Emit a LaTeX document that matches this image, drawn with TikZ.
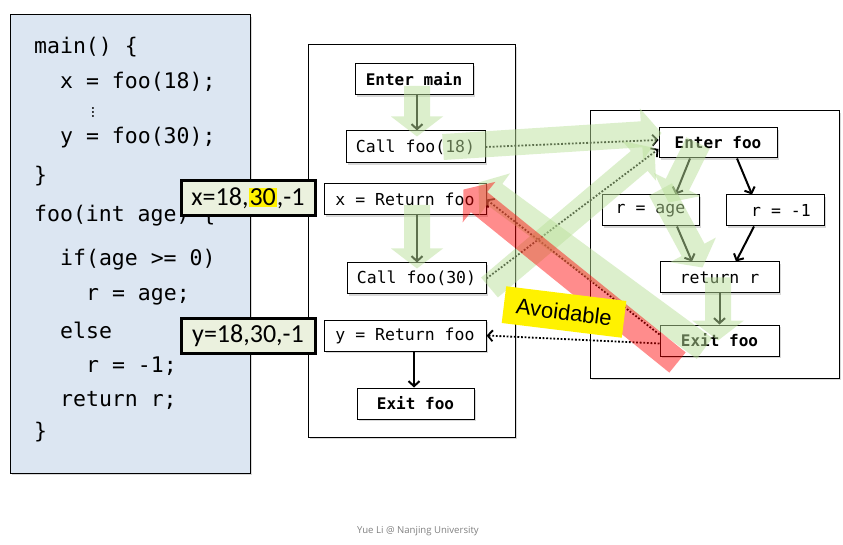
\documentclass[tikz,border=0pt]{standalone}
\usepackage{fontspec}
\usetikzlibrary{arrows.meta,calc,shadows,positioning}
\newfontfamily\codefont{DejaVu Sans Mono}
\newfontfamily\labelfont{Carlito}
\newfontfamily\notefont{Liberation Sans}
\newfontfamily\footfont{Open Sans}
\definecolor{codebg}{HTML}{DCE6F2}
\definecolor{labelbg}{HTML}{EBF1DE}
\definecolor{flowgreen}{HTML}{BBE19B}
\newcommand\fatarrow[3][]{%
  \fill[#1] let \p1=(#2), \p2=(#3), \n1={atan2(\y2-\y1,\x2-\x1)}, \n2={veclen(\x2-\x1,\y2-\y1)} in
    [shift={(\p1)},rotate=\n1] (0,-13) -- (\n2-20,-13) -- (\n2-20,-26) -- (\n2,0)
    -- (\n2-20,26) -- (\n2-20,13) -- (0,13) -- cycle;}

\begin{document}
\begin{tikzpicture}[x=1pt,y=-1pt,
  frame/.style={draw,line width=1pt,fill=white,drop shadow={shadow xshift=2pt,shadow yshift=-2pt,opacity=0.3}},
  box/.style={frame,inner sep=0pt,minimum height=31pt,font=\codefont\fontsize{16.5}{18}\selectfont},
  bbox/.style={box,font=\codefont\bfseries\fontsize{16}{18}\selectfont},
  flow/.style={-{Straight Barb[length=5pt,width=11pt]},line width=2pt},
  back/.style={flow,line width=1.8pt,dash pattern=on 1.8pt off 1.8pt},
  val/.style={draw,line width=3pt,fill=labelbg,minimum width=134pt,minimum height=35pt,inner sep=0pt,font=\labelfont\fontsize{26}{28}\selectfont},
  okpath/.style={fill=flowgreen,fill opacity=0.5},
  badpath/.style={fill=red,fill opacity=0.45}]
  \useasboundingbox (0,0) rectangle (843,545);

  \node[frame,fill=codebg,minimum width=240pt,minimum height=458pt] (code) at (130,244) {};
  \foreach \y/\x/\t in {47/34/{main() \{}, 82/60/{x = foo(18);}, 138/60/{y = foo(30);}, 176/34/{\}},
      216/34/{foo(int age) \{}, 260/60/{if(age >= 0)}, 297/86/{r = age;}, 330/60/{else},
      366/86/{r = -1;}, 400/60/{return r;}, 432/34/{\}}}
    \node[anchor=west,inner sep=0pt,font=\codefont\fontsize{21.5}{24}\selectfont] at (\x,\y) {\t};
  \node[inner sep=0pt,font=\bfseries\fontsize{14}{14}\selectfont] (dots) at (93,109) {$\vdots$};

  \node[frame,minimum width=207pt,minimum height=392pt] (mainfr) at (411.5,241) {};
  \node[frame,minimum width=249pt,minimum height=267pt] (foofr) at (714.5,244.5) {};

  \node[bbox,minimum width=118pt] (entermain) at (414,79.5) {Enter main};
  \node[box,minimum width=139pt,minimum height=32pt] (callA) at (415.5,147) {Call foo(18)};
  \node[box,minimum width=162pt] (xret) at (405,199.5) {x = Return foo};
  \node[box,minimum width=139pt] (callB) at (416.5,278.5) {Call foo(30)};
  \node[box,minimum width=162pt] (yret) at (405,335.5) {y = Return foo};
  \node[bbox,minimum width=117pt] (exitmain) at (415.5,403.5) {Exit foo};
  \node[bbox,minimum width=118pt,minimum height=30pt] (enterfoo) at (718,143) {Enter foo};
  \node[box,minimum width=97pt] (rage) at (650.5,210.5) {r = age};
  \node[box,minimum width=98pt] (rneg) at (775,210.5) {\hspace*{12pt}r = -1};
  \node[box,minimum width=119pt] (returnr) at (719.5,277.5) {return r};
  \node[bbox,minimum width=119pt] (exitfoo) at (719.5,340.5) {Exit foo};

  \draw[flow] ([xshift=3pt]entermain.south) -- ([xshift=1.5pt]callA.north);
  \draw[flow] ([xshift=12pt]xret.south) -- ([xshift=0.5pt]callB.north);
  \draw[flow] ([xshift=9pt]yret.south) -- ([xshift=-1.5pt]exitmain.north);
  \draw[flow] ([xshift=-28pt]enterfoo.south) -- ([xshift=25pt]rage.north);
  \draw[flow] ([xshift=19pt]enterfoo.south) -- ([xshift=-23pt]rneg.north);
  \draw[flow] ([xshift=26.5pt]rage.south) -- ([xshift=-27.5pt]returnr.north);
  \draw[flow] ([xshift=-21pt]rneg.south) -- ([xshift=16.5pt]returnr.north);
  \draw[flow] (returnr.south) -- (exitfoo.north);

  \draw[back] (callA.east) -- ([yshift=3pt]enterfoo.west);
  \draw[back] (callB.east) -- ([yshift=-6pt]enterfoo.west);
  \draw[back] ([yshift=6pt]exitfoo.west) -- (xret.east);
  \draw[back] ([yshift=-3pt]exitfoo.west) -- (yret.east);

  \fatarrow[okpath]{[shift={(3pt,-6.5pt)}]entermain.center}{[shift={(1.5pt,-6pt)}]callA.north}
  \fatarrow[okpath]{[xshift=27.5pt]callA.center}{[shift={(3pt,10pt)}]enterfoo.west}
  \fatarrow[okpath]{[shift={(3pt,-9pt)}]callB.east}{[shift={(-4pt,-5pt)}]enterfoo.west}
  \fatarrow[okpath]{[xshift=-20pt]enterfoo.center}{[shift={(18pt,-8pt)}]rage.north}
  \fatarrow[okpath]{[shift={(10pt,5pt)}]rage.north}{[shift={(-17pt,-6pt)}]returnr.north}
  \fatarrow[okpath]{[xshift=-1.5pt]returnr.center}{[xshift=-1.5pt]exitfoo.center}
  \fatarrow[okpath]{[shift={(-15pt,-8pt)}]exitfoo.center}{[shift={(-8pt,17pt)}]xret.east}
  \fatarrow[okpath]{[shift={(12pt,-5.5pt)}]xret.center}{[shift={(0.5pt,-6pt)}]callB.north}
  \fatarrow[badpath]{[shift={(-42pt,-22pt)}]exitfoo.center}{[shift={(-23pt,10pt)}]xret.east}

  \node[val] (xval) at (248,198.5) {x=18,{\fboxsep=1pt\colorbox{yellow}{30}},-1};
  \node[val] (yval) at (248,335.5) {y=18,30,-1};
  \node[fill=yellow,rotate=-7,minimum width=121pt,minimum height=37pt,inner sep=0pt,
    font=\notefont\fontsize{22}{24}\selectfont] (avoid) at (564,312) {Avoidable};
  \node[font=\footfont\fontsize{9.6}{11}\selectfont,text=gray] (foot) at (418,531) {Yue Li @ Nanjing University};
\end{tikzpicture}
\end{document}
